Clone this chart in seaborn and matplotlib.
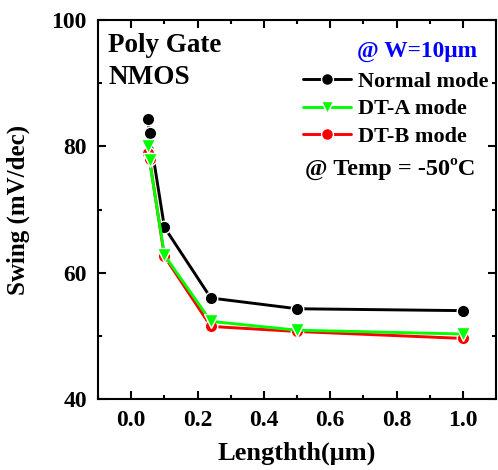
import matplotlib
matplotlib.use("Agg")
import matplotlib.pyplot as plt
from matplotlib.ticker import MultipleLocator
import seaborn as sns
import pandas as pd

# Gate length (um) and subthreshold swing (mV/dec) at -50 C
length_um = [0.05, 0.055, 0.1, 0.24, 0.5, 1.0]
swing_normal = [84.3, 82.1, 67.2, 56.0, 54.3, 54.0]
swing_dta = [80.0, 77.8, 62.8, 52.3, 50.9, 50.3]
swing_dtb = [78.9, 78.0, 62.6, 51.5, 50.7, 49.6]

series_names = ["Normal mode", "DT-A mode", "DT-B mode"]
series_values = [swing_normal, swing_dta, swing_dtb]
series_colors = ["#000000", "#00FF00", "#FF0000"]
series_markers = ["o", "v", "o"]

x_ticks = [0.0, 0.2, 0.4, 0.6, 0.8, 1.0]
y_ticks = [40, 60, 80, 100]

sns.set_theme(style="ticks")
plt.rcParams["font.family"] = ["Liberation Serif", "DejaVu Serif"]
plt.rcParams["font.weight"] = "bold"
for key in ["text.color", "axes.labelcolor", "xtick.color", "ytick.color", "axes.edgecolor"]:
    plt.rcParams[key] = "black"

frames = []
for name, vals in zip(series_names, series_values):
    frames.append(pd.DataFrame({"Length": length_um, "Swing": vals, "Mode": name}))
df = pd.concat(frames, ignore_index=True)

fig = plt.figure(figsize=(4.98, 4.70), dpi=100)
ax = fig.add_axes([0.197, 0.151, 0.799, 0.806])

handles = {}
# draw red first so the green triangles sit on top
for idx in [0, 2, 1]:
    name = series_names[idx]
    sub = df[df["Mode"] == name]
    sns.lineplot(data=sub, x="Length", y="Swing", ax=ax, color=series_colors[idx],
                 marker=series_markers[idx], markersize=9.5 if series_markers[idx] == "v" else 9,
                 markeredgecolor="white", markeredgewidth=1.0, linewidth=2.1,
                 label=name, sort=False, legend=False)
    handles[name] = ax.lines[-1]

ax.set_xlim(-0.1, 1.1)
ax.set_ylim(40, 100)
ax.set_xticks(x_ticks)
ax.set_xticklabels([f"{v:.1f}" for v in x_ticks])
ax.set_yticks(y_ticks)
ax.xaxis.set_minor_locator(MultipleLocator(0.1))
ax.yaxis.set_minor_locator(MultipleLocator(10))
ax.tick_params(which="both", direction="in", top=True, right=True, width=1.5,
               labelsize=17, pad=8)
ax.tick_params(which="major", length=6)
ax.tick_params(which="minor", length=3)
for lab in ax.get_xticklabels() + ax.get_yticklabels():
    lab.set_fontweight("bold")
for sp in ax.spines.values():
    sp.set_linewidth(1.5)

ax.set_xlabel("Lengthth(μm)", fontsize=19, fontweight="bold")
ax.set_ylabel("Swing (mV/dec)", fontsize=18, fontweight="bold")
ax.xaxis.set_label_coords(0.5, -0.112)
ax.yaxis.set_label_coords(-0.171, 0.50)

ax.text(0.025, 0.9156, "Poly Gate", transform=ax.transAxes, fontsize=19.5,
        fontweight="bold", va="baseline", ha="left")
ax.text(0.025, 0.831, "NMOS", transform=ax.transAxes, fontsize=19.5,
        fontweight="bold", va="baseline", ha="left")
ax.text(0.650, 0.903, "@ W=10μm", transform=ax.transAxes, fontsize=16.8,
        fontweight="bold", color="#0000FF", va="baseline", ha="left")

leg = ax.legend([handles[n] for n in series_names], series_names,
                loc="upper left", bbox_to_anchor=(0.515, 0.865), frameon=False,
                numpoints=1, handlelength=2.15, handletextpad=0.32,
                labelspacing=0.31, prop={"size": 16, "weight": "bold"},
                borderaxespad=0.0, borderpad=0.0, markerscale=0.95)

ax.text(0.520, 0.593, "@ Temp = -50ºC", transform=ax.transAxes, fontsize=17.5,
        fontweight="bold", va="baseline", ha="left")

fig.savefig("out.png", dpi=100)
